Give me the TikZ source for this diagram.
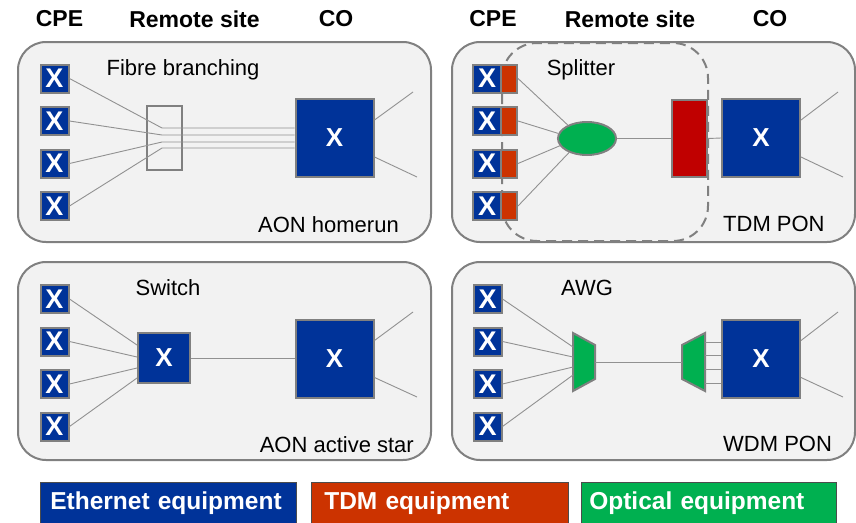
\documentclass[tikz,border=0pt]{standalone}
\usepackage{fontspec}
\setmainfont{Liberation Sans}
\usetikzlibrary{shapes.geometric}
\definecolor{ethblue}{RGB}{0,51,153}
\definecolor{tdmred}{RGB}{204,51,0}
\definecolor{oltred}{RGB}{192,0,0}
\definecolor{optgreen}{RGB}{0,176,80}
\definecolor{panelfill}{RGB}{242,242,242}
\definecolor{bordergray}{RGB}{128,128,128}
\definecolor{linegray}{RGB}{145,145,145}
\begin{document}
\begin{tikzpicture}[x=1pt,y=-1pt,
  panel/.style={draw=bordergray,line width=2pt,fill=panelfill,rounded corners=28pt},
  region/.style={draw=bordergray,line width=2pt,dash pattern=on 10pt off 6pt,rounded corners=35pt},
  xbox/.style={draw=bordergray,line width=2pt,fill=ethblue,inner sep=0pt,text=white,
    font=\bfseries\fontsize{26}{26}\selectfont},
  cpebox/.style={xbox,minimum width=28pt,minimum height=28pt,font=\bfseries\fontsize{27}{27}\selectfont},
  cobox/.style={xbox,minimum width=78pt,minimum height=78pt},
  tdmbox/.style={draw=bordergray,line width=2pt,fill=tdmred,inner sep=0pt,minimum width=16pt,minimum height=28pt},
  fibre/.style={draw=linegray,line width=0.9pt},
  optical/.style={draw=bordergray,line width=2pt,fill=optgreen},
  lbl/.style={font=\fontsize{22}{22}\selectfont,inner sep=0pt},
  head/.style={font=\bfseries\fontsize{23}{23}\selectfont,inner sep=0pt},
  legbox/.style={draw=black!70,line width=0.6pt,anchor=north west,minimum height=40pt,align=left,
    text=white,font=\bfseries\fontsize{24.5}{24.5}\selectfont,inner ysep=0pt},
]
\useasboundingbox (0,0) rectangle (856,522);

% headers
\node[head] (h1) at (59.5,19) {CPE};
\node[head] (h2) at (194.5,19) {Remote site};
\node[head] (h3) at (336,19) {CO};
\node[head] (h4) at (493,19) {CPE};
\node[head] (h5) at (630,19) {Remote site};
\node[head] (h6) at (770,19) {CO};

% panels
\draw[panel] (18,42) rectangle (431,242);
\draw[panel] (452,42) rectangle (855,242);
\draw[panel] (18,262) rectangle (431,460);
\draw[panel] (452,262) rectangle (855,460);
\draw[region] (502,43) rectangle (708,241);

% ---------- AON homerun ----------
\node[lbl] (l1) at (183,70) {Fibre branching};
\node[lbl,anchor=east] (l2) at (399,225) {AON homerun};
\foreach \i/\y in {1/78.5,2/121,3/163.5,4/206}{
  \node[cpebox] (a\i) at (54.5,\y) {X};
}
\node[draw=bordergray,line width=2pt,minimum width=35pt,minimum height=64pt,inner sep=0pt] (fb) at (164.5,138) {};
\node[cobox] (co1) at (334.5,138) {X};
\coordinate (fa1) at (162,128); \coordinate (fa2) at (162,135);
\coordinate (fa3) at (162,142); \coordinate (fa4) at (162,148);
\foreach \i/\d in {1/10,2/3,3/-4,4/-10}{
  \draw[fibre] (a\i.east) -- (fa\i) -- ([yshift=\d pt]co1.west);
}
\coordinate (ua1) at (413,92); \coordinate (ua2) at (417,177);
\draw[fibre] ([yshift=18pt]co1.east) -- (ua1);
\draw[fibre] ([yshift=-19pt]co1.east) -- (ua2);

% ---------- TDM PON ----------
\node[lbl] (l3) at (581,70) {Splitter};
\node[lbl,anchor=west] (l4) at (723,224) {TDM PON};
\foreach \i/\y in {1/78.5,2/121,3/163.5,4/206}{
  \node[cpebox] (b\i) at (487,\y) {X};
  \node[tdmbox] (r\i) at (509,\y) {};
}
\node[optical,ellipse,minimum width=58pt,minimum height=33pt,inner sep=0pt] (sp) at (587,138.5) {};
\node[draw=bordergray,line width=2pt,fill=oltred,minimum width=35pt,minimum height=77pt,inner sep=0pt] (olt) at (689.5,138.5) {};
\node[cobox] (co2) at (761,138) {X};
\foreach \i/\a in {1/145,2/170,3/195,4/218}{
  \draw[fibre] (r\i.east) -- (sp.\a);
}
\draw[fibre] (sp.east) -- (olt.west);
\draw[fibre] (olt.east) -- (co2.west);
\coordinate (ub1) at (838,92); \coordinate (ub2) at (843,177);
\draw[fibre] ([yshift=18pt]co2.east) -- (ub1);
\draw[fibre] ([yshift=-19pt]co2.east) -- (ub2);

% ---------- AON active star ----------
\node[lbl] (l5) at (168,288) {Switch};
\node[lbl,anchor=east] (l6) at (414,445) {AON active star};
\foreach \i/\y in {1/299,2/341.5,3/384,4/426.5}{
  \node[cpebox] (c\i) at (54.5,\y) {X};
}
\node[xbox,minimum width=52pt,minimum height=50pt] (sw) at (164,358) {X};
\node[cobox] (co3) at (334.5,358.5) {X};
\foreach \i/\d in {1/13,2/1,3/-10,4/-20}{
  \draw[fibre] (c\i.east) -- ([yshift=\d pt]sw.west);
}
\draw[fibre] (sw.east) -- (sw.east -| co3.west);
\coordinate (uc1) at (413,312); \coordinate (uc2) at (417,397);
\draw[fibre] ([yshift=18pt]co3.east) -- (uc1);
\draw[fibre] ([yshift=-19pt]co3.east) -- (uc2);

% ---------- WDM PON ----------
\node[lbl] (l7) at (587,288) {AWG};
\node[lbl,anchor=west] (l8) at (723,444) {WDM PON};
\foreach \i/\y in {1/299,2/341.5,3/384,4/426.5}{
  \node[cpebox] (d\i) at (487.5,\y) {X};
}
\draw[optical,line join=miter] (573,333) -- (595,345) -- (595,379) -- (573,391) -- cycle;
\draw[optical,line join=miter] (682,345) -- (705,333) -- (705,391) -- (682,379) -- cycle;
\coordinate (awgL) at (595,362); \coordinate (awgR) at (682,362);
\coordinate (ai1) at (573,347); \coordinate (ai2) at (573,357);
\coordinate (ai3) at (573,367); \coordinate (ai4) at (573,375);
\node[cobox] (co4) at (761,358.5) {X};
\foreach \i in {1,2,3,4}{
  \draw[fibre] (d\i.east) -- (ai\i);
}
\draw[fibre] (awgL) -- (awgR);
\foreach \i/\y in {1/342,2/355,3/369,4/383}{
  \coordinate (ao\i) at (705,\y);
  \draw[fibre] (ao\i) -- (ao\i -| co4.west);
}
\coordinate (ud1) at (838,312); \coordinate (ud2) at (843,397);
\draw[fibre] ([yshift=18pt]co4.east) -- (ud1);
\draw[fibre] ([yshift=-19pt]co4.east) -- (ud2);

% ---------- legend ----------
\node[legbox,fill=ethblue,inner xsep=10pt,text width=236pt,minimum height=42pt] (le) at (40,482) {Ethernet equipment};
\node[legbox,fill=tdmred,inner xsep=13pt,text width=231pt,minimum height=42pt] (lt) at (311,482) {TDM equipment};
\node[legbox,fill=optgreen,inner xsep=8pt,text width=239pt,minimum height=42pt] (lo) at (581,482) {Optical equipment};
\end{tikzpicture}
\end{document}
